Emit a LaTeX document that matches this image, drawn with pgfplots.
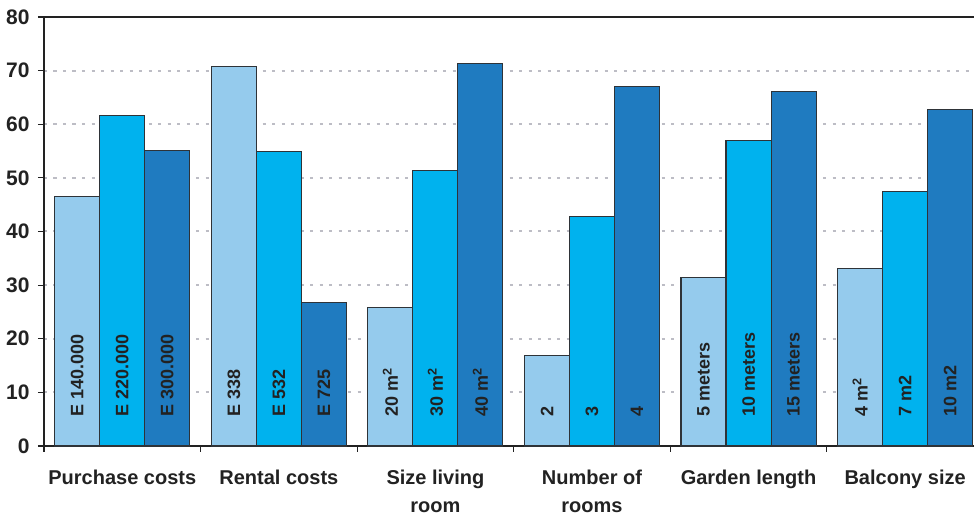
\documentclass[border=0pt]{standalone}
\usepackage{fontspec}
\setmainfont{Liberation Sans}
\usepackage{pgfplots}
\pgfplotsset{compat=1.18}

\definecolor{barA}{HTML}{95CBED}
\definecolor{barB}{HTML}{00B2EE}
\definecolor{barC}{HTML}{1F7BC0}
\definecolor{edge}{HTML}{2E3338}
\definecolor{gridc}{HTML}{BDBDC5}
\definecolor{axisc}{HTML}{222222}
\definecolor{txt}{HTML}{222222}

\tikzset{optlab/.style={rotate=90, anchor=west, inner sep=0pt, text=txt, xshift=-1.5pt,
  font=\bfseries\fontsize{18}{18}\selectfont}}

\begin{document}
\begin{tikzpicture}
\begin{axis}[
  scale only axis,
  width=930pt, height=429pt,
  xmin=-0.5, xmax=5.44,
  ymin=0, ymax=80,
  ytick={0,10,...,80},
  xtick={0,1,2,3,4,5},
  xticklabels={Purchase costs, Rental costs, Size living\\room, Number of\\rooms, Garden length, Balcony size},
  minor xtick={-0.5,0.5,1.5,2.5,3.5,4.5},
  xtick style={draw=none},
  minor x tick style={draw=axisc, line width=1.2pt},
  ytick style={draw=axisc, line width=1.2pt},
  tick align=outside,
  major tick length=6pt, minor tick length=6pt,
  xtick pos=bottom, ytick pos=left,
  axis x line*=box, axis y line*=left,
  axis line style={-, draw=axisc, line width=1.3pt},
  ymajorgrids,
  grid style={gridc, line width=2pt, dash pattern=on 3.2pt off 6.3pt},
  /pgf/number format/assume math mode=true,
  yticklabel style={font=\bfseries\fontsize{21}{21}\selectfont, text=txt, xshift=-5pt},
  xticklabel style={font=\bfseries\fontsize{20}{28}\selectfont, text=txt, align=center, anchor=north, yshift=-14pt},
  ybar=0pt, bar width=0.2875,
  every axis plot/.append style={draw=edge, line width=1.1pt},
  clip=false,
]
\addplot[fill=barA] coordinates {(0,46.5) (1,70.8) (2,25.9) (3,16.8) (4,31.5) (5,33.1)};
\addplot[fill=barB] coordinates {(0,61.7) (1,54.9) (2,51.3) (3,42.8) (4,57.0) (5,47.4)};
\addplot[fill=barC] coordinates {(0,55.1) (1,26.7) (2,71.4) (3,67.1) (4,66.1) (5,62.8)};

% option labels written up the bars
\node[optlab] at (axis cs:-0.2875,5.8) {E 140.000};
\node[optlab] at (axis cs:0,5.8)       {E 220.000};
\node[optlab] at (axis cs:0.2875,5.8)  {E 300.000};
\node[optlab] at (axis cs:0.7125,5.8)  {E 338};
\node[optlab] at (axis cs:1,5.8)       {E 532};
\node[optlab] at (axis cs:1.2875,5.8)  {E 725};
\node[optlab] at (axis cs:1.7125,5.8)  {20 m\textsuperscript{2}};
\node[optlab] at (axis cs:2,5.8)       {30 m\textsuperscript{2}};
\node[optlab] at (axis cs:2.2875,5.8)  {40 m\textsuperscript{2}};
\node[optlab] at (axis cs:2.7125,5.8)  {2};
\node[optlab] at (axis cs:3,5.8)       {3};
\node[optlab] at (axis cs:3.2875,5.8)  {4};
\node[optlab] at (axis cs:3.7125,5.8)  {5 meters};
\node[optlab] at (axis cs:4,5.8)       {10 meters};
\node[optlab] at (axis cs:4.2875,5.8)  {15 meters};
\node[optlab] at (axis cs:4.7125,5.8)  {4 m\textsuperscript{2}};
\node[optlab] at (axis cs:5,5.8)       {7 m2};
\node[optlab] at (axis cs:5.2875,5.8)  {10 m2};

\coordinate (bl) at (rel axis cs:0,0);
\coordinate (tr) at (rel axis cs:1,1);
\end{axis}
\pgfresetboundingbox
\useasboundingbox ([shift={(-44pt,-69pt)}]bl) rectangle ([shift={(0pt,17pt)}]tr);
\end{tikzpicture}
\end{document}
